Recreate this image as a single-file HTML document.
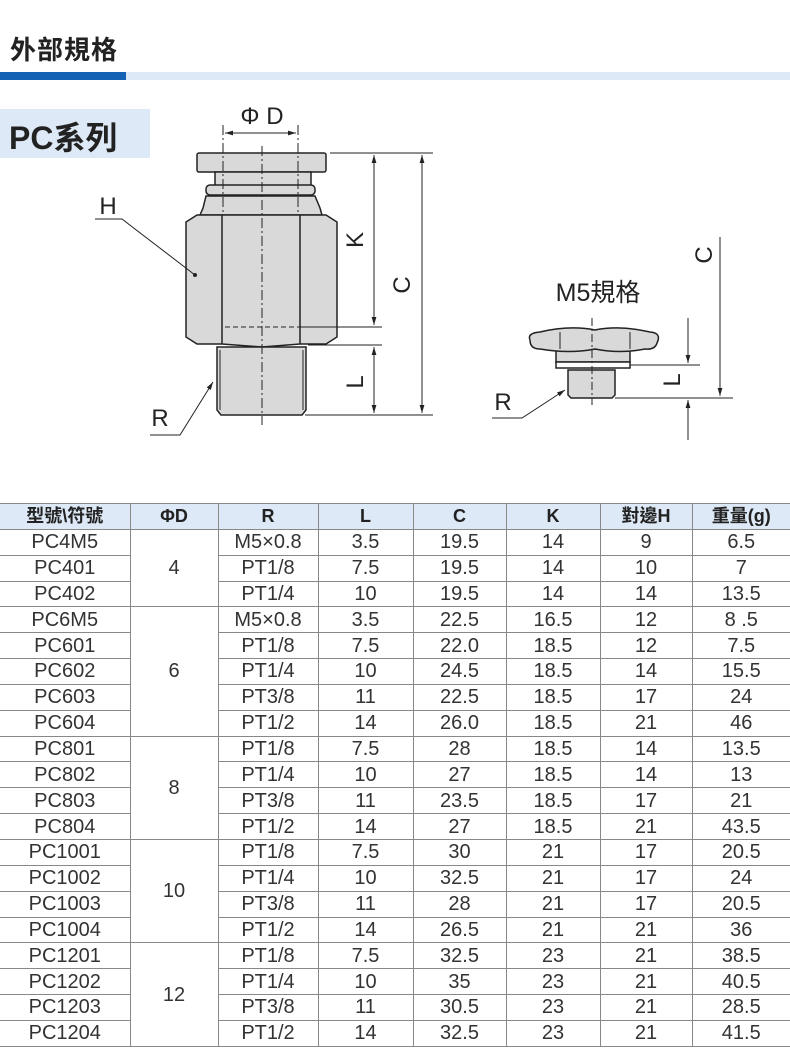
<!DOCTYPE html>
<html><head><meta charset="utf-8"><style>
body{margin:0;width:790px;height:1049px;background:#fff;position:relative;overflow:hidden;font-family:"Liberation Sans","Noto Sans CJK TC",sans-serif;}
.t1{position:absolute;left:10px;top:30px;font-size:26px;font-weight:bold;color:#222;letter-spacing:1px;}
.bar1{position:absolute;left:0;top:72px;width:126px;height:8px;background:#1462b4;}
.bar2{position:absolute;left:126px;top:72px;width:664px;height:8px;background:#dde9f6;}
.box{position:absolute;left:0;top:109px;width:150px;height:49px;background:#dde9f6;}
.box span{position:absolute;left:9px;top:4px;font-size:32px;font-weight:bold;color:#222;}
table{position:absolute;left:0;top:503px;width:790px;border-collapse:collapse;table-layout:fixed;}
td{border:1px solid #888;border-width:0 1.5px 1.5px 0;height:24.85px;padding:0;text-align:center;font-size:20px;color:#333;line-height:24px;}
td:last-child{border-right:none}
tr.h td{background:#dde9f6;font-weight:bold;font-size:18px;color:#222;}
tr.h td{border-top:1.5px solid #888}
</style></head><body>
<div class="t1">外部規格</div>
<div class="bar1"></div><div class="bar2"></div>
<div class="box"><span>PC系列</span></div>
<svg width="790" height="500" style="position:absolute;left:0;top:0" font-family="Liberation Sans, sans-serif">
<defs><marker id="a" viewBox="0 0 10 10" refX="10" refY="5" markerWidth="8" markerHeight="10" orient="auto-start-reverse"><path d="M0,2 L10,5 L0,8z" fill="#222"/></marker></defs>
<g stroke="#222" stroke-width="1.5" fill="#d9d9d9">
<rect x="197" y="153" width="129" height="19" rx="2"/>
<rect x="215" y="172" width="96" height="14"/>
<rect x="206" y="185" width="109" height="10" rx="4" fill="#d9d9d9"/>
<path d="M206,196 L315,196 L320,208 L322,215 L200,215 L203,208Z"/>
<path d="M197,215 L222,215 L300,215 L326,215 L337,222 L337,337 L326,344 L300,344 L262,347 L222,344 L197,344 L186,337 L186,222Z"/>
<path d="M222,215 L222,344 M300,215 L300,344" fill="none"/>
<path d="M217,347 L306,347 L306,410 L302,415 L221,415 L217,410Z"/>
<path d="M220,350 L220,410 M303,350 L303,410" fill="none" stroke-width="1"/>
</g>
<g stroke="#222" stroke-width="1" fill="none">
<path d="M262,146 L262,425" stroke-dasharray="10,3,2,3"/>
<path d="M223,125 L223,215 M298,125 L298,215" stroke-dasharray="10,3,2,3"/>
<path d="M225,327 L300,327" stroke-dasharray="5,3"/>
<line x1="225" y1="133" x2="296" y2="133" marker-start="url(#a)" marker-end="url(#a)"/>
<path d="M330,153 L433,153 M300,327 L382,327 M308,345 L382,345 M305,415 L433,415"/>
<line x1="374" y1="155" x2="374" y2="325" marker-start="url(#a)" marker-end="url(#a)"/>
<line x1="374" y1="347" x2="374" y2="413" marker-start="url(#a)" marker-end="url(#a)"/>
<line x1="422" y1="155" x2="422" y2="413" marker-start="url(#a)" marker-end="url(#a)"/>
<path d="M95,219 L122,219 L195,275"/>
<path d="M150,435 L180,435 L213,382" marker-end="url(#a)"/>
</g>
<circle cx="195" cy="275" r="2" fill="#222"/>
<g fill="#222" font-size="24">
<text x="262" y="124" text-anchor="middle">Φ D</text>
<text x="108" y="214" text-anchor="middle">H</text>
<text x="160" y="426" text-anchor="middle">R</text>
<text transform="translate(363,240) rotate(-90)" text-anchor="middle">K</text>
<text transform="translate(410,285) rotate(-90)" text-anchor="middle">C</text>
<text transform="translate(363,382) rotate(-90)" text-anchor="middle">L</text>
<text x="598" y="301" text-anchor="middle" font-family="Liberation Sans, Noto Sans CJK TC, sans-serif" font-size="25">M5規格</text>
<text x="503" y="410" text-anchor="middle">R</text>
<text transform="translate(712,255) rotate(-90)" text-anchor="middle">C</text>
<text transform="translate(680,380) rotate(-90)" text-anchor="middle">L</text>
</g>
<g stroke="#222" stroke-width="1.5" fill="#d9d9d9">
<rect x="556" y="349" width="74" height="13"/>
<rect x="556" y="362" width="74" height="6" fill="#fff"/>
<path d="M568,370 L615,370 L615,395 L612,398 L571,398 L568,395Z"/>
<path d="M530,340 Q527,333 540,332 Q570,325 595,330 Q620,325 650,332 Q662,333 657,343 Q655,350 645,349 Q620,354 595,349 Q570,354 540,349 Q530,349 530,340Z"/>
<path d="M560,332 L560,349 M630,332 L630,349" fill="none" stroke-width="1"/>
</g>
<g stroke="#222" stroke-width="1" fill="none">
<path d="M592,318 L592,405" stroke-dasharray="8,3,2,3"/>
<path d="M630,365 L700,365 M615,398 L733,398"/>
<line x1="688" y1="318" x2="688" y2="363" marker-end="url(#a)"/>
<line x1="688" y1="440" x2="688" y2="400" marker-end="url(#a)"/>
<line x1="720" y1="237" x2="720" y2="396" marker-end="url(#a)"/>
<path d="M492,418 L522,418 L565,390" marker-end="url(#a)"/>
</g>
</svg>
<table>
<colgroup><col style="width:130px"><col style="width:88px"><col style="width:100px"><col style="width:95px"><col style="width:93px"><col style="width:94px"><col style="width:92px"><col style="width:98px"></colgroup>
<tr class="h"><td>型號\符號</td><td>ΦD</td><td>R</td><td>L</td><td>C</td><td>K</td><td>對邊H</td><td>重量(g)</td></tr>
<tr><td>PC4M5</td><td rowspan="3">4</td><td>M5×0.8</td><td>3.5</td><td>19.5</td><td>14</td><td>9</td><td>6.5</td></tr>
<tr><td>PC401</td><td>PT1/8</td><td>7.5</td><td>19.5</td><td>14</td><td>10</td><td>7</td></tr>
<tr><td>PC402</td><td>PT1/4</td><td>10</td><td>19.5</td><td>14</td><td>14</td><td>13.5</td></tr>
<tr><td>PC6M5</td><td rowspan="5">6</td><td>M5×0.8</td><td>3.5</td><td>22.5</td><td>16.5</td><td>12</td><td>8 .5</td></tr>
<tr><td>PC601</td><td>PT1/8</td><td>7.5</td><td>22.0</td><td>18.5</td><td>12</td><td>7.5</td></tr>
<tr><td>PC602</td><td>PT1/4</td><td>10</td><td>24.5</td><td>18.5</td><td>14</td><td>15.5</td></tr>
<tr><td>PC603</td><td>PT3/8</td><td>11</td><td>22.5</td><td>18.5</td><td>17</td><td>24</td></tr>
<tr><td>PC604</td><td>PT1/2</td><td>14</td><td>26.0</td><td>18.5</td><td>21</td><td>46</td></tr>
<tr><td>PC801</td><td rowspan="4">8</td><td>PT1/8</td><td>7.5</td><td>28</td><td>18.5</td><td>14</td><td>13.5</td></tr>
<tr><td>PC802</td><td>PT1/4</td><td>10</td><td>27</td><td>18.5</td><td>14</td><td>13</td></tr>
<tr><td>PC803</td><td>PT3/8</td><td>11</td><td>23.5</td><td>18.5</td><td>17</td><td>21</td></tr>
<tr><td>PC804</td><td>PT1/2</td><td>14</td><td>27</td><td>18.5</td><td>21</td><td>43.5</td></tr>
<tr><td>PC1001</td><td rowspan="4">10</td><td>PT1/8</td><td>7.5</td><td>30</td><td>21</td><td>17</td><td>20.5</td></tr>
<tr><td>PC1002</td><td>PT1/4</td><td>10</td><td>32.5</td><td>21</td><td>17</td><td>24</td></tr>
<tr><td>PC1003</td><td>PT3/8</td><td>11</td><td>28</td><td>21</td><td>17</td><td>20.5</td></tr>
<tr><td>PC1004</td><td>PT1/2</td><td>14</td><td>26.5</td><td>21</td><td>21</td><td>36</td></tr>
<tr><td>PC1201</td><td rowspan="4">12</td><td>PT1/8</td><td>7.5</td><td>32.5</td><td>23</td><td>21</td><td>38.5</td></tr>
<tr><td>PC1202</td><td>PT1/4</td><td>10</td><td>35</td><td>23</td><td>21</td><td>40.5</td></tr>
<tr><td>PC1203</td><td>PT3/8</td><td>11</td><td>30.5</td><td>23</td><td>21</td><td>28.5</td></tr>
<tr><td>PC1204</td><td>PT1/2</td><td>14</td><td>32.5</td><td>23</td><td>21</td><td>41.5</td></tr>
</table>
</body></html>
